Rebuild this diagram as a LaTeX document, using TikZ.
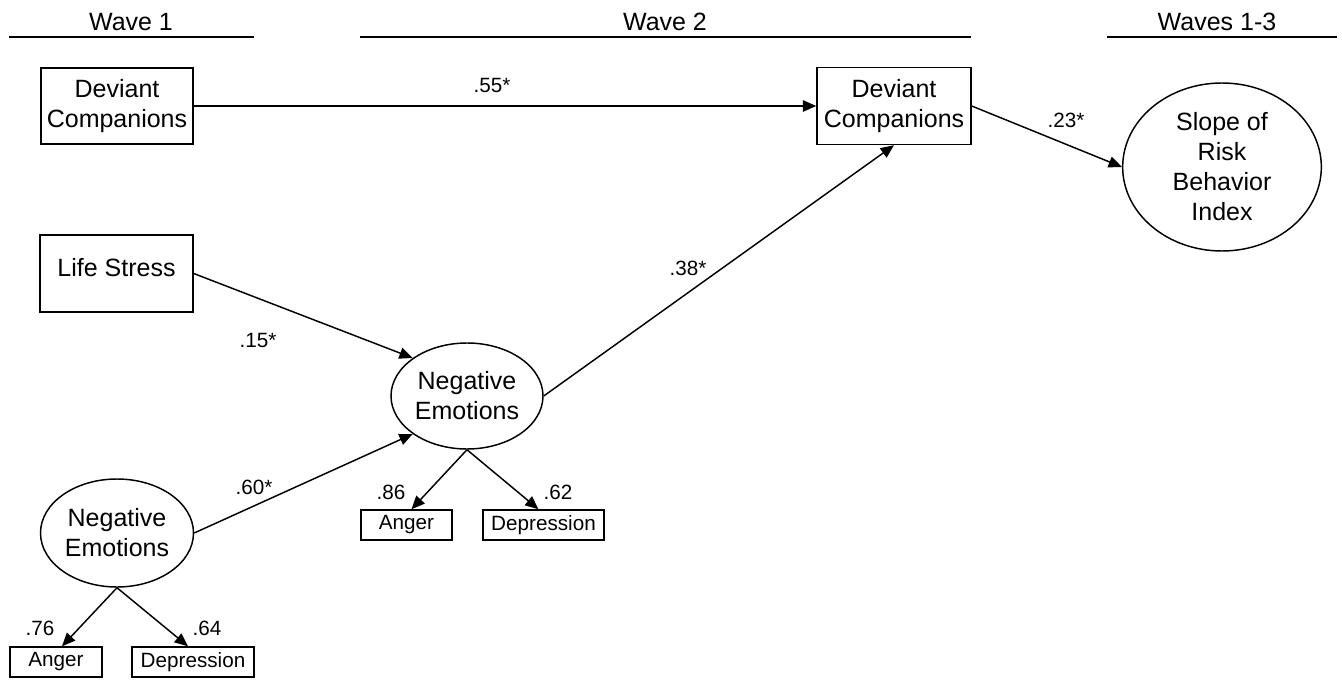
\documentclass[tikz,border=0pt]{standalone}
\usepackage{fontspec}
\setmainfont{Liberation Sans}
\usetikzlibrary{shapes.geometric,arrows.meta,calc}
\begin{document}
\begin{tikzpicture}[x=0.75pt,y=-0.75pt,
  bigtext/.style={font=\fontsize{18.75}{22.5}\selectfont,align=center},
  smalltext/.style={font=\fontsize{15.5}{18}\selectfont},
  obsbox/.style={draw,line width=1.1pt,inner sep=0pt,bigtext},
  latent/.style={draw,ellipse,line width=1.1pt,inner sep=0pt,bigtext},
  indbox/.style={draw,line width=1.1pt,inner sep=0pt,minimum height=22.5pt,smalltext},
  coef/.style={smalltext,inner sep=0pt},
  path/.style={line width=1.1pt,-{Triangle[length=10pt,width=8.5pt]}},
  waveline/.style={line width=1.2pt}]
\useasboundingbox (0,0) rectangle (1342,681);

% wave headers
\coordinate (w1a) at (9,37);   \coordinate (w1b) at (254,37);
\coordinate (w2a) at (360,37); \coordinate (w2b) at (971,37);
\coordinate (w3a) at (1107,37);\coordinate (w3b) at (1337,37);
\draw[waveline] (w1a) -- (w1b);
\draw[waveline] (w2a) -- (w2b);
\draw[waveline] (w3a) -- (w3b);
\node[bigtext] (t1) at (131,22) {Wave 1};
\node[bigtext] (t2) at (665,22) {Wave 2};
\node[bigtext] (t3) at (1217,22) {Waves 1-3};

% nodes
\node[obsbox,minimum width=114pt,minimum height=57pt] (dc1) at (117,106) {Deviant\\Companions};
\node[obsbox,minimum width=115.5pt,minimum height=57.75pt] (dc2) at (894,106) {Deviant\\Companions};
\node[latent,minimum width=149pt,minimum height=126pt] (slope) at (1222,167) {Slope of\\Risk\\Behavior\\Index};
\node[obsbox,minimum width=114.75pt,minimum height=57.75pt] (ls) at (116.5,273.5) {};
\node[bigtext] (lstext) at (116.5,268) {Life Stress};
\node[latent,minimum width=114pt,minimum height=79.5pt] (ne2) at (467,396) {Negative\\Emotions};
\node[latent,minimum width=114.75pt,minimum height=81pt] (ne1) at (117,533) {Negative\\Emotions};
\node[indbox,minimum width=68.25pt] (a2) at (406.5,525) {Anger};
\node[indbox,minimum width=90.75pt] (d2) at (543.5,525) {Depression};
\node[indbox,minimum width=69pt] (a1) at (56,662) {Anger};
\node[indbox,minimum width=91.5pt] (d1) at (193,662) {Depression};

% paths
\draw[path] (dc1.east) -- (dc2.west);
\draw[path] (dc2.east) -- (slope.west);
\draw[path] (ls.east) -- (ne2.145);
\draw[path] (ne1.east) -- (ne2.215);
\draw[path] (ne2.east) -- (dc2.south);
\draw[path] (ne2.south) -- ($(a2.north)+(5,0)$);
\draw[path] (ne2.south) -- ($(d2.north)+(-5,0)$);
\draw[path] (ne1.south) -- ($(a1.north)+(6,0)$);
\draw[path] (ne1.south) -- ($(d1.north)+(-5,0)$);

% coefficients
\node[coef] (c55) at (492,85) {.55*};
\node[coef] (c23) at (1066,120) {.23*};
\node[coef] (c38) at (688,268) {.38*};
\node[coef] (c15) at (258,340) {.15*};
\node[coef] (c60) at (254,487) {.60*};
\node[coef] (c86) at (391,492) {.86};
\node[coef] (c62) at (558,492) {.62};
\node[coef] (c76) at (40,628) {.76};
\node[coef] (c64) at (207,628) {.64};
\end{tikzpicture}
\end{document}
